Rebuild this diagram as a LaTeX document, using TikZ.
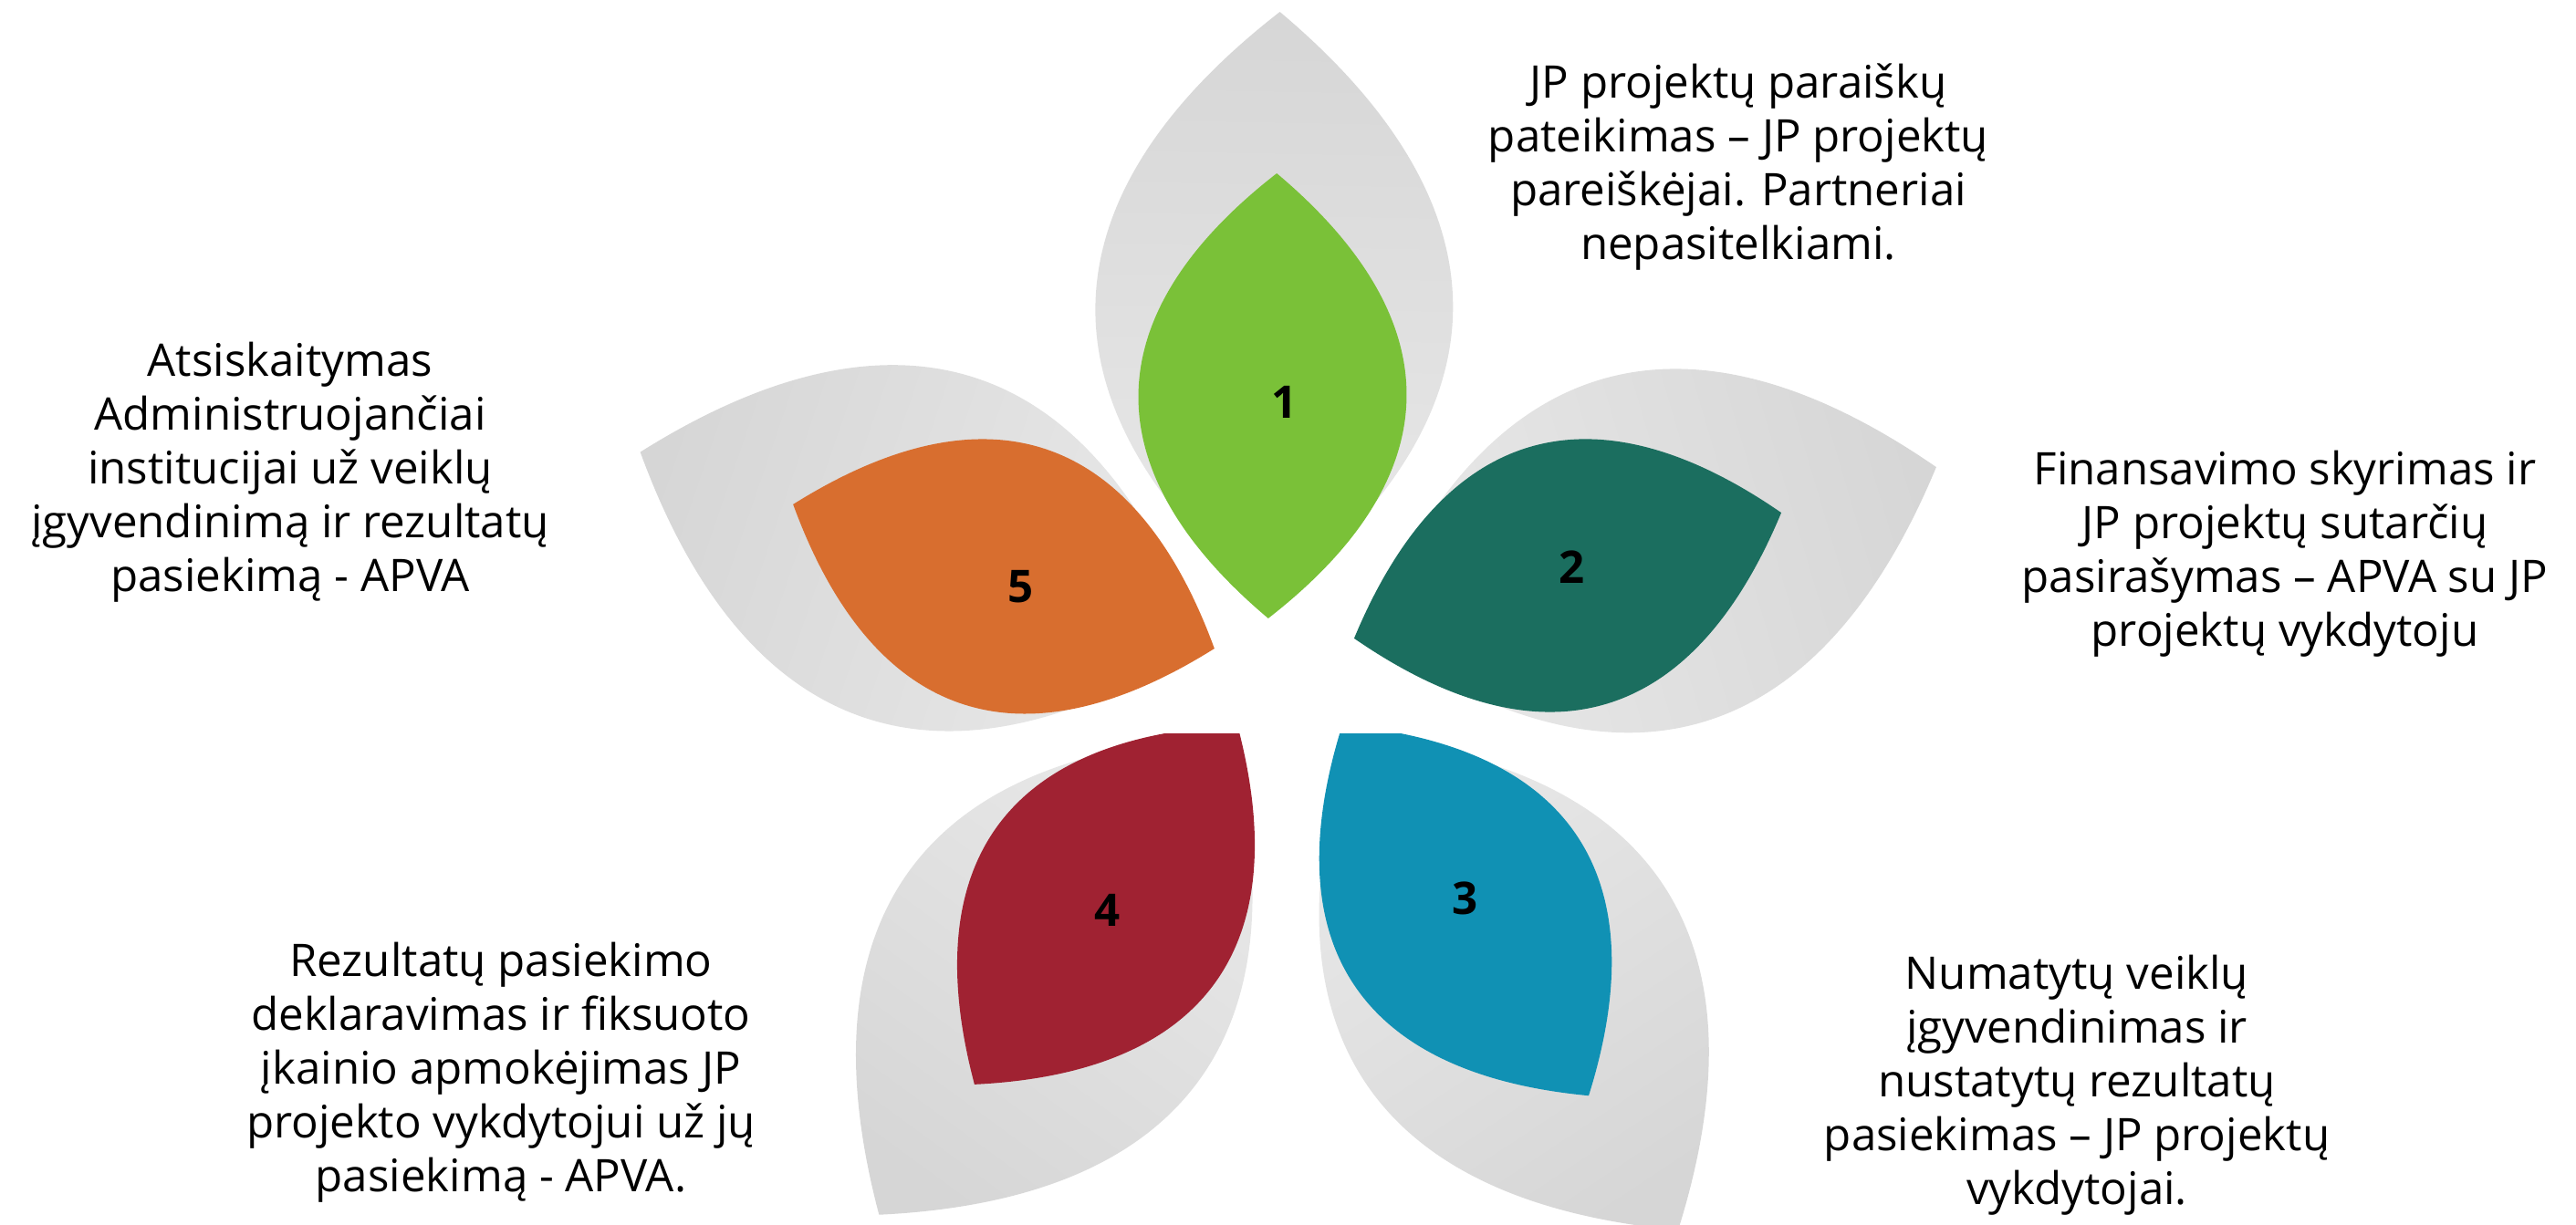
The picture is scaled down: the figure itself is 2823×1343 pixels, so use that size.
\documentclass[tikz,border=0pt]{standalone}
\usepackage{fontspec}
\setmainfont{Open Sans}

\definecolor{leafgreen}{RGB}{122,193,56}
\definecolor{leafteal}{RGB}{27,110,95}
\definecolor{leafblue}{RGB}{16,145,180}
\definecolor{leafred}{RGB}{160,34,50}
\definecolor{leaforange}{RGB}{216,110,47}
\definecolor{haloin}{RGB}{233,233,233}
\definecolor{haloout}{RGB}{214,214,214}

\tikzset{
  leaf len/.store in=\leaflen, leaf len=244,
  leaf wid/.store in=\leafwid, leaf wid=147,
  leaf/.pic={
    \path[pic actions] (-\leaflen,0)
      .. controls (-0.35*\leaflen,1.333*\leafwid) and (0.35*\leaflen,1.333*\leafwid) .. (\leaflen,0)
      .. controls (0.35*\leaflen,-1.333*\leafwid) and (-0.35*\leaflen,-1.333*\leafwid) .. cycle;
  },
  halo/.style={draw=none, top color=haloout, bottom color=haloin,
    leaf len=325, leaf wid=196},
  petal/.style={draw=none, leaf len=244, leaf wid=147},
  num/.style={font=\bfseries\fontsize{14}{14}\selectfont, inner sep=0pt},
  caption/.style={align=center, inner sep=0pt,
    font=\fontsize{14}{16.8}\selectfont}
}

\begin{document}
\begin{tikzpicture}[x=0.01cm, y=0.01cm]
  \useasboundingbox (0,0) rectangle (2823,1343);

  % grey halos first, darker towards the outer tip
  \foreach \ang/\px/\py [evaluate=\ang as \sa using \ang-90] in
      {88.9/1394.5/909, 16.4/1718/712, -56.4/1606/345,
       -126.2/1212/351, 161.1/1100/711}
    \pic[rotate=\ang, xshift=0.96cm, halo, shading angle=\sa] at (\px,\py) {leaf};

  % coloured petals with their numbers (3 and 4 are cut flat at the top)
  \foreach \ang/\px/\py/\col/\cut/\nx/\ny/\n in
      {88.9/1394.5/909/leafgreen/1343/1408/902/1,
       16.4/1718/712/leafteal/1343/1723/721/2,
       -56.4/1606/345/leafblue/538/1606/358/3,
       -126.2/1212/351/leafred/538/1214/345/4,
       161.1/1100/711/leaforange/1343/1119/700/5}{
    \begin{scope}
      \clip (0,0) rectangle (2823,\cut);
      \pic[rotate=\ang, petal, fill=\col] at (\px,\py) {leaf};
    \end{scope}
    \node[num] (n\n) at (\nx,\ny) {\n};
  }

  \node[caption] (t1) at (1905,1160) {JP projektų paraiškų\\pateikimas – JP projektų\\pareiškėjai. Partneriai\\nepasitelkiami.};
  \node[caption] (t2) at (2504,736) {Finansavimo skyrimas ir\\JP projektų sutarčių\\pasirašymas – APVA su JP\\projektų vykdytoju};
  \node[caption] (t3) at (2276,153) {Numatytų veiklų\\įgyvendinimas ir\\nustatytų rezultatų\\pasiekimas – JP projektų\\vykdytojai.};
  \node[caption] (t4) at (549,167) {Rezultatų pasiekimo\\deklaravimas ir fiksuoto\\įkainio apmokėjimas JP\\projekto vykdytojui už jų\\pasiekimą - APVA.};
  \node[caption] (t5) at (318,825) {Atsiskaitymas\\Administruojančiai\\institucijai už veiklų\\įgyvendinimą ir rezultatų\\pasiekimą - APVA};
\end{tikzpicture}
\end{document}
